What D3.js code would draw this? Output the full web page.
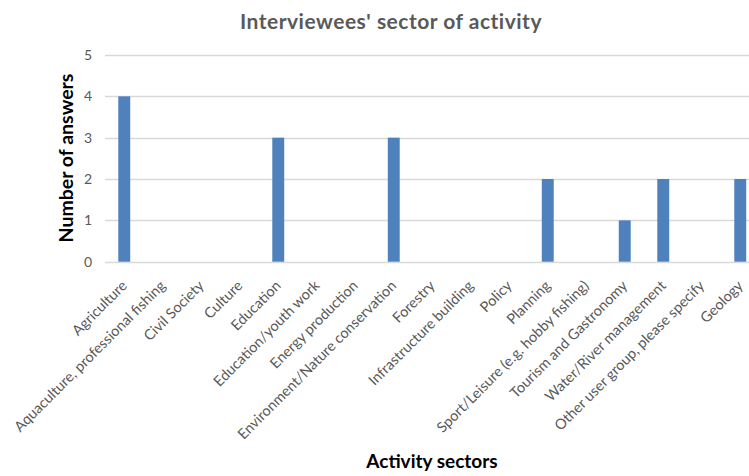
<!DOCTYPE html>
<html>
<head>
<meta charset="utf-8">
<script src="https://cdn.jsdelivr.net/npm/d3@7"></script>
<style>
  html, body { margin: 0; padding: 0; background: #fff; }
  svg { display: block; }
</style>
</head>
<body>
<svg id="chart" width="749" height="476"></svg>
<script>
const categories = [
  "Agriculture",
  "Aquaculture, professional fishing",
  "Civil Society",
  "Culture",
  "Education",
  "Education/youth work",
  "Energy production",
  "Environment/Nature conservation",
  "Forestry",
  "Infrastructure building",
  "Policy",
  "Planning",
  "Sport/Leisure (e.g. hobby fishing)",
  "Tourism and Gastronomy",
  "Water/River management",
  "Other user group, please specify",
  "Geology"
];
const answers = [4, 0, 0, 0, 3, 0, 0, 3, 0, 0, 0, 2, 0, 1, 2, 0, 2];
const yTicks = [0, 1, 2, 3, 4, 5];
const titleText = "Interviewees' sector of activity";
const yTitle = "Number of answers";
const xTitle = "Activity sectors";

const FONT = "Lato, 'Open Sans', sans-serif";
const svg = d3.select("#chart");

const x = d3.scaleBand()
  .domain(categories)
  .range([105, 759.5])
  .paddingInner(0.69)
  .paddingOuter(0.345);

const y = d3.scaleLinear()
  .domain([0, 5])
  .range([261.7, 55]);

// gridlines
svg.append("g")
  .selectAll("line")
  .data(yTicks)
  .join("line")
  .attr("x1", 105)
  .attr("x2", 760)
  .attr("y1", d => Math.round(y(d)) + 0.5)
  .attr("y2", d => Math.round(y(d)) + 0.5)
  .attr("stroke", "#d9d9d9")
  .attr("stroke-width", 1.3);

// y tick labels
svg.append("g")
  .selectAll("text")
  .data(yTicks)
  .join("text")
  .attr("x", 92)
  .attr("y", d => y(d))
  .attr("dy", "0.35em")
  .attr("text-anchor", "end")
  .attr("font-family", FONT)
  .attr("font-size", 14)
  .attr("fill", "#595959")
  .text(d => d);

// bars
svg.append("g")
  .selectAll("rect")
  .data(categories.map((c, i) => ({ c, v: answers[i] })).filter(d => d.v > 0))
  .join("rect")
  .attr("x", d => x(d.c))
  .attr("width", x.bandwidth())
  .attr("y", d => y(d.v))
  .attr("height", d => y(0) - y(d.v))
  .attr("fill", "#4f81bd");

// x tick labels
svg.append("g")
  .selectAll("text")
  .data(categories)
  .join("text")
  .attr("transform", d => `translate(${x(d) + x.bandwidth() / 2},${283}) rotate(-45)`)
  .attr("text-anchor", "end")
  .attr("dy", "0.35em")
  .attr("font-family", FONT)
  .attr("font-size", 14.5)
  .attr("fill", "#595959")
  .text(d => d);

// title
svg.append("text")
  .attr("x", 391)
  .attr("y", 29)
  .attr("text-anchor", "middle")
  .attr("font-family", FONT)
  .attr("font-weight", "bold")
  .attr("font-size", 21)
  .attr("letter-spacing", 0.5)
  .attr("fill", "#595959")
  .text(titleText);

// y axis title
svg.append("text")
  .attr("transform", `translate(73,158) rotate(-90)`)
  .attr("text-anchor", "middle")
  .attr("font-family", FONT)
  .attr("font-weight", "bold")
  .attr("font-size", 19.5)
  .attr("fill", "#000")
  .text(yTitle);

// x axis title
svg.append("text")
  .attr("x", 432)
  .attr("y", 468)
  .attr("text-anchor", "middle")
  .attr("font-family", FONT)
  .attr("font-weight", "bold")
  .attr("font-size", 19)
  .attr("fill", "#000")
  .text(xTitle);
</script>
</body>
</html>
